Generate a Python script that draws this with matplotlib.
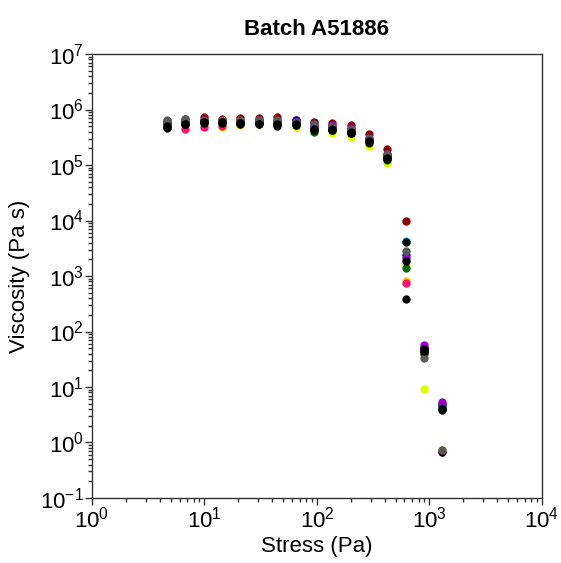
import matplotlib
matplotlib.use('Agg')
import matplotlib.pyplot as plt
from matplotlib.ticker import FuncFormatter, NullFormatter
import numpy as np

plt.rcParams['font.family'] = ['Liberation Sans', 'DejaVu Sans']
plt.rcParams['mathtext.fontset'] = 'custom'
plt.rcParams['mathtext.rm'] = 'Liberation Sans'
plt.rcParams['mathtext.it'] = 'Liberation Sans'

# shear stress steps (Pa)
stress = [4.64, 6.76, 9.84, 14.3, 20.9, 30.4, 44.3, 64.5, 93.9, 137, 199, 290, 422, 615, 895, 1303]

# viscosity (Pa s) per sample, drawn in this order (last one on top)
darkred = [6.2e5, 6.8e5, 7.2e5, 6.8e5, 7.0e5, 6.9e5, 7.3e5, 6.6e5, 6.0e5, 5.7e5, 5.2e5, 3.6e5, 1.95e5, 9.8e3, 50, 5.0]
yellow = [5.4e5, 5.6e5, 5.5e5, 4.9e5, 5.2e5, 5.6e5, 5.3e5, 4.8e5, 4.4e5, 3.8e5, 3.2e5, 2.2e5, 1.1e5, 1.6e3, 9.2, 4.5]
gold = [5.5e5, 5.9e5, 6.0e5, 5.8e5, 5.9e5, 6.0e5, 5.8e5, 5.4e5, 4.9e5, 4.5e5, 3.8e5, 2.6e5, 1.3e5, 830, 45, 0.72]
pink = [5.6e5, 4.4e5, 4.8e5, 5.0e5, 5.6e5, 5.8e5, 5.5e5, 5.4e5, 4.8e5, 4.5e5, 3.9e5, 2.7e5, 1.35e5, 740, 44, 0.66]
cyan = [5.8e5, 6.0e5, 6.2e5, 6.0e5, 6.1e5, 6.2e5, 6.0e5, 5.6e5, 5.1e5, 4.7e5, 4.1e5, 2.8e5, 1.4e5, 4.3e3, 46, 4.6]
blue = [5.9e5, 6.1e5, 6.3e5, 6.1e5, 6.2e5, 6.3e5, 6.2e5, 6.5e5, 5.5e5, 5.0e5, 4.4e5, 3.0e5, 1.5e5, 2.4e3, 50, 4.8]
purple = [5.7e5, 6.0e5, 6.4e5, 6.2e5, 6.3e5, 6.4e5, 6.3e5, 5.9e5, 5.3e5, 5.2e5, 4.6e5, 3.1e5, 1.6e5, 2.1e3, 57, 5.4]
green = [5.5e5, 5.6e5, 6.1e5, 6.3e5, 6.0e5, 6.1e5, 6.2e5, 5.7e5, 4.0e5, 4.2e5, 3.7e5, 2.5e5, 1.25e5, 1.39e3, 39, 4.2]
black_c = [4.8e5, 5.4e5, 5.8e5, 5.8e5, 5.6e5, 5.7e5, 5.4e5, 5.2e5, 4.4e5, 4.2e5, 3.7e5, 2.7e5, 1.4e5, 390, 42, 0.67]
gray = [6.6e5, 6.7e5, 6.4e5, 6.5e5, 6.4e5, 6.5e5, 6.6e5, 6.0e5, 5.4e5, 5.0e5, 4.5e5, 3.1e5, 1.6e5, 2.8e3, 33, 0.74]
black_a = [5.0e5, 5.5e5, 5.9e5, 6.0e5, 5.7e5, 5.5e5, 5.0e5, 5.5e5, 4.3e5, 4.3e5, 3.8e5, 2.6e5, 1.3e5, 4.1e3, 48, 3.9]
black_b = [4.7e5, 5.6e5, 6.0e5, 5.9e5, 5.8e5, 5.6e5, 5.6e5, 5.3e5, 4.5e5, 4.4e5, 3.9e5, 2.7e5, 1.35e5, 1.86e3, 45, 4.0]

series = [
    (darkred, '#8b0000'),
    (yellow, '#ddff00'),
    (gold, '#ffcc00'),
    (pink, '#ff1070'),
    (cyan, '#00ccff'),
    (blue, '#0000cc'),
    (purple, '#9900cc'),
    (green, '#006600'),
    (black_c, '#000000'),
    (gray, '#5a5a5a'),
    (black_a, '#000000'),
    (black_b, '#000000'),
]

x_decades = [0, 1, 2, 3, 4]
y_decades = [-1, 0, 1, 2, 3, 4, 5, 6, 7]


def pow10(v, pos):
    e = int(round(np.log10(v)))
    return r'10$^{\mathregular{%d}}$' % e


def minors(decades):
    out = []
    for d in decades[:-1]:
        out += [k * 10.0 ** d for k in range(2, 10)]
    return out


fig = plt.figure(figsize=(5.61, 5.63), dpi=100)
ax = fig.add_axes([0.164, 0.1155, 0.802, 0.7885])

for vals, col in series:
    ax.plot(stress, vals, 'o', color=col, ms=6, mew=0, linestyle='none')

ax.set_xscale('log')
ax.set_yscale('log')

ax.set_xticks([10.0 ** d for d in x_decades])
ax.set_yticks([10.0 ** d for d in y_decades])
ax.set_xticks(minors(x_decades), minor=True)
ax.set_yticks(minors(y_decades), minor=True)
ax.xaxis.set_major_formatter(FuncFormatter(pow10))
ax.yaxis.set_major_formatter(FuncFormatter(pow10))
ax.xaxis.set_minor_formatter(NullFormatter())
ax.yaxis.set_minor_formatter(NullFormatter())
ax.set_xlim(1, 1e4)
ax.set_ylim(1e-1, 1e7)

ax.tick_params(which='both', direction='out', top=False, right=False,
               color='#333333', width=1)
ax.tick_params(which='major', length=5, labelsize=16, pad=1)
ax.tick_params(which='minor', length=3)
for s in ax.spines.values():
    s.set_color('#333333')
    s.set_linewidth(1)

ax.set_xlabel('Stress (Pa)', fontsize=16, labelpad=3)
ax.set_ylabel('Viscosity (Pa s)', fontsize=16, labelpad=7)
ax.set_title('Batch A51886', fontsize=16, fontweight='bold', pad=14)

fig.savefig('out.png', dpi=100)
